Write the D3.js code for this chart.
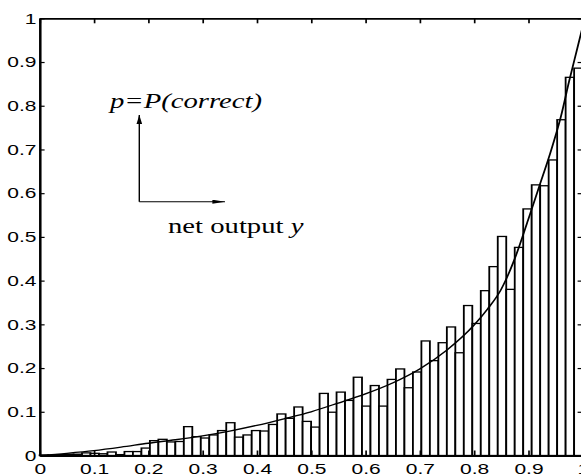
<!DOCTYPE html>
<html>
<head>
<meta charset="utf-8">
<script src="https://cdn.jsdelivr.net/npm/d3@7"></script>
<style>
  body { margin: 0; background: #fff; }
  svg { display: block; }
</style>
</head>
<body>
<svg id="histVis" width="581" height="476"></svg>
<script>
// histogram of p = P(correct) against net output y, 64 bins on [0, 1]
const binEdges = d3.range(0, 65).map(i => i / 64);
const binValues = [
  0.001, 0.001, 0.002, 0.003, 0.003, 0.006, 0.005, 0.004,
  0.008, 0.002, 0.009, 0.009, 0.017, 0.034, 0.037, 0.031,
  0.032, 0.066, 0.043, 0.040, 0.047, 0.057, 0.075, 0.042,
  0.047, 0.057, 0.056, 0.071, 0.095, 0.085, 0.111, 0.078,
  0.065, 0.142, 0.099, 0.145, 0.126, 0.179, 0.113, 0.160,
  0.113, 0.174, 0.198, 0.155, 0.191, 0.262, 0.217, 0.258,
  0.294, 0.235, 0.343, 0.302, 0.377, 0.432, 0.501, 0.380,
  0.476, 0.564, 0.619, 0.617, 0.676, 0.768, 0.865, 0.886
];

// fitted curve
const curveX = [0, 0.05, 0.1, 0.15, 0.2, 0.25, 0.3, 0.35, 0.4, 0.45, 0.5, 0.55, 0.6, 0.65,
  0.7, 0.75, 0.8, 0.825, 0.85, 0.875, 0.9, 0.92, 0.94, 0.96, 0.975, 0.99, 1];
const curveP = [0, 0.005, 0.011, 0.019, 0.028, 0.036, 0.045, 0.056, 0.069, 0.084, 0.1, 0.12, 0.141, 0.166,
  0.198, 0.241, 0.298, 0.335, 0.38, 0.45, 0.54, 0.615, 0.69, 0.775, 0.855, 0.93, 0.98];

const tickValues = [0, 0.1, 0.2, 0.3, 0.4, 0.5, 0.6, 0.7, 0.8, 0.9, 1];
const tickLabels = ['0', '0.1', '0.2', '0.3', '0.4', '0.5', '0.6', '0.7', '0.8', '0.9', '1'];

class histogramVis {
  constructor(_config) {
    this.config = {
      parentElement: _config.parentElement,
      stretch: _config.stretch || 1.4,   // the picture is wider than it is tall
      left: 39.6, right: 582.6, top: 18.3, bottom: 455.5
    };
    this.initVis();
  }

  initVis() {
    let vis = this;
    const sx = vis.config.stretch;
    const svg = d3.select(vis.config.parentElement);
    const g = svg.append('g').attr('transform', `scale(${sx},1)`);

    vis.xScale = d3.scaleLinear()
      .domain([0, 1])
      .range([vis.config.left / sx, vis.config.right / sx]);
    vis.yScale = d3.scaleLinear()
      .domain([0, 1])
      .range([vis.config.bottom, vis.config.top]);

    const defs = svg.append('defs');
    defs.append('marker')
      .attr('id', 'arrowHead')
      .attr('viewBox', '0 -2 9 4')
      .attr('refX', 9).attr('refY', 0)
      .attr('markerWidth', 9).attr('markerHeight', 4)
      .attr('markerUnits', 'userSpaceOnUse')
      .attr('orient', 'auto')
      .append('path')
      .attr('d', 'M0,-2L9,0L0,2Z')
      .attr('fill', '#000');

    // bars
    g.append('g')
      .selectAll('rect')
      .data(binValues)
      .join('rect')
      .attr('x', (d, i) => vis.xScale(binEdges[i]))
      .attr('width', (d, i) => vis.xScale(binEdges[i + 1]) - vis.xScale(binEdges[i]))
      .attr('y', d => vis.yScale(d))
      .attr('height', d => vis.yScale(0) - vis.yScale(d))
      .attr('fill', '#fff')
      .attr('stroke', '#000')
      .attr('stroke-width', 1.3);

    // curve
    const line = d3.line()
      .x(d => vis.xScale(d[0]))
      .y(d => vis.yScale(d[1]))
      .curve(d3.curveMonotoneX);
    g.append('path')
      .datum(curveX.map((x, i) => [x, curveP[i]]))
      .attr('d', line)
      .attr('fill', 'none')
      .attr('stroke', '#000')
      .attr('stroke-width', 1.3);

    // axes box with inward ticks
    const fmt = (d, i) => tickLabels[i];
    g.append('g')
      .attr('class', 'x-axis')
      .attr('transform', `translate(0,${vis.yScale(0)})`)
      .call(d3.axisBottom(vis.xScale).tickValues(tickValues).tickFormat(fmt)
        .tickSizeInner(-5).tickSizeOuter(0).tickPadding(8));
    g.append('g')
      .attr('class', 'y-axis')
      .attr('transform', `translate(${vis.xScale(0)},0)`)
      .call(d3.axisLeft(vis.yScale).tickValues(tickValues).tickFormat(fmt)
        .tickSizeInner(-5 / sx).tickSizeOuter(0).tickPadding(2.2));
    g.append('g')
      .attr('transform', `translate(0,${vis.yScale(1)})`)
      .call(d3.axisTop(vis.xScale).tickValues(tickValues).tickFormat('')
        .tickSizeInner(-5).tickSizeOuter(0));
    g.append('g')
      .attr('transform', `translate(${vis.xScale(1)},0)`)
      .call(d3.axisRight(vis.yScale).tickValues(tickValues).tickFormat('')
        .tickSizeInner(-5 / sx).tickSizeOuter(0));

    g.selectAll('.domain').attr('stroke-width', 1.8);
    g.selectAll('.tick line').attr('stroke-width', 1.2);
    g.selectAll('.tick text')
      .attr('font-family', '"Liberation Sans", Arial, sans-serif')
      .attr('font-size', 15)
      .attr('fill', '#000');

    // annotation arrows
    const ax = 0.1836, ay = 0.5805;
    g.append('line')
      .attr('x1', vis.xScale(ax)).attr('y1', vis.yScale(ay))
      .attr('x2', vis.xScale(ax)).attr('y2', vis.yScale(0.779))
      .attr('stroke', '#000').attr('stroke-width', 1)
      .attr('marker-end', 'url(#arrowHead)');
    g.append('line')
      .attr('x1', vis.xScale(ax)).attr('y1', vis.yScale(ay))
      .attr('x2', vis.xScale(0.3414)).attr('y2', vis.yScale(ay))
      .attr('stroke', '#000').attr('stroke-width', 1)
      .attr('marker-end', 'url(#arrowHead)');

    g.append('text')
      .attr('x', vis.xScale(0.1297))
      .attr('y', vis.yScale(0.795))
      .attr('font-family', '"Liberation Serif", "Times New Roman", serif')
      .attr('font-style', 'italic')
      .attr('font-size', 20.5)
      .text('p=P(correct)');

    const lab = g.append('text')
      .attr('x', vis.xScale(0.2365))
      .attr('y', vis.yScale(0.509))
      .attr('font-family', '"Liberation Serif", "Times New Roman", serif')
      .attr('font-size', 20.5);
    lab.append('tspan').text('net output ');
    lab.append('tspan').attr('font-style', 'italic').text('y');
  }
}

new histogramVis({ parentElement: 'svg#histVis' });
</script>
</body>
</html>
